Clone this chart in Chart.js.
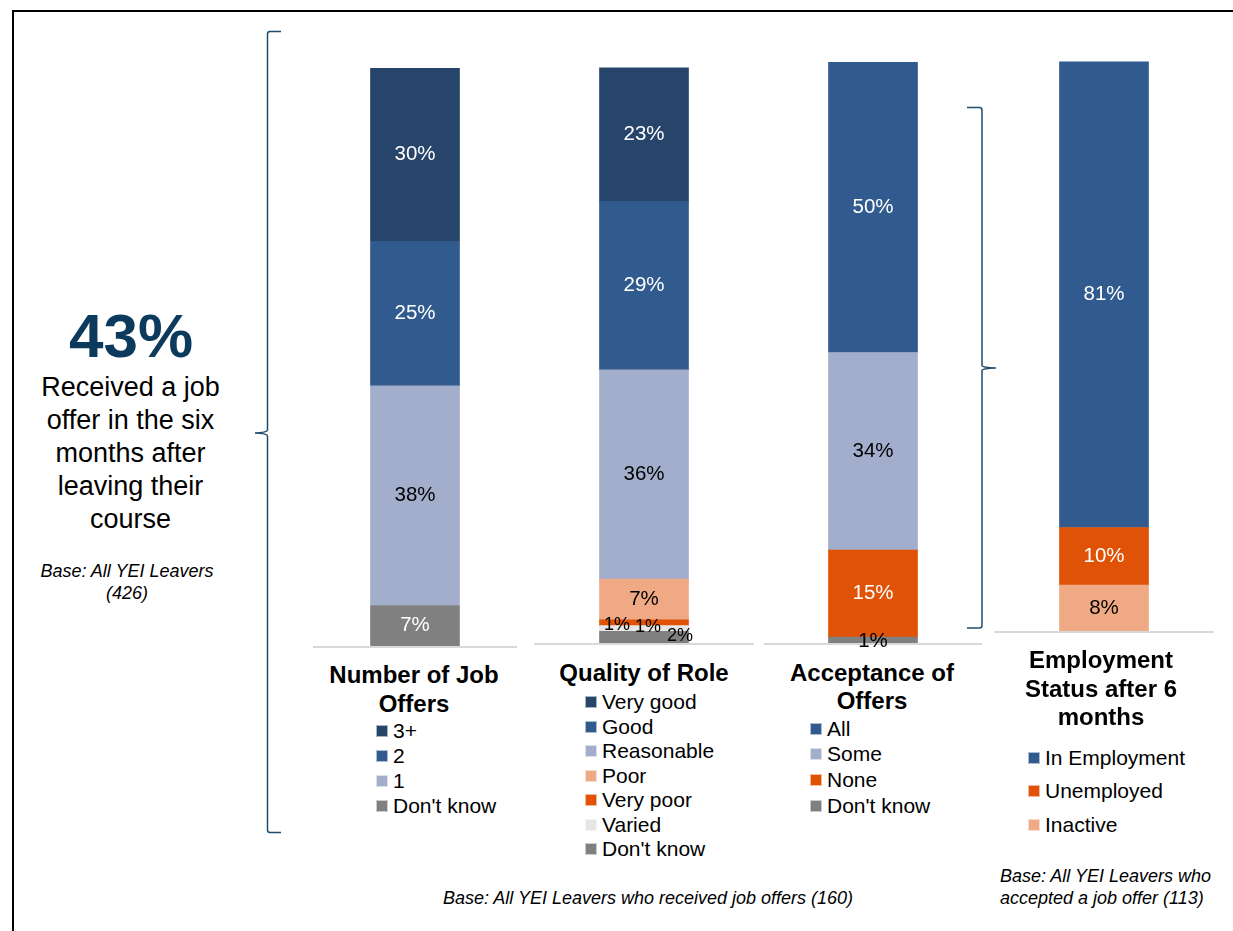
<!DOCTYPE html>
<html lang="en">
<head>
<meta charset="UTF-8">
<title>YEI leavers – job offers</title>
<script src="https://cdn.jsdelivr.net/npm/chart.js"></script>
<style>
    body {
        margin: 0;
        width: 1233px;
        height: 931px;
        overflow: hidden;
        position: relative;
        background: #fff;
        font-family: "Liberation Sans", Arial, sans-serif;
        color: #000;
    }
    .abs { position: absolute; }
    canvas { position: absolute; }
    .title {
        position: absolute;
        width: 260px;
        text-align: center;
        font-weight: bold;
        font-size: 24px;
    }
    .note {
        position: absolute;
        text-align: center;
        font-style: italic;
        font-size: 18px;
        line-height: 22px;
        white-space: nowrap;
    }
    .legend { position: absolute; font-size: 21px; white-space: nowrap; }
    .legend div { display: flex; align-items: center; }
    .legend span.box {
        width: 10px;
        height: 10px;
        margin-right: 5px;
        border: 0.5px solid rgba(255,255,255,0.6);
        flex: none;
    }
</style>
</head>
<body>

<!-- frame and the two braces -->
<svg class="abs" style="left:0;top:0" width="1233" height="931">
    <path d="M1233 11 H13 V931" fill="none" stroke="#000" stroke-width="2"/>
    <path d="M281 31.5 H270 Q267.5 31.5 267.5 34 V430 Q267.5 432.5 255 433 Q267.5 433.5 267.5 436 V830 Q267.5 832.5 270 832.5 H281"
          fill="none" stroke="#1f4e6e" stroke-width="1.5"/>
    <path d="M967 107.5 H979.5 Q982 107.5 982 110 V365.5 Q982 367.5 996 368 Q982 368.5 982 370.5 V625.5 Q982 628 979.5 628 H967"
          fill="none" stroke="#1f4e6e" stroke-width="1.5"/>
</svg>

<!-- headline figure on the left -->
<div class="abs" style="left:31px;top:305px;width:200px;text-align:center;font-weight:bold;font-size:62px;line-height:62px;color:#0c3a5c">43%</div>
<div class="abs" style="left:0;top:371px;width:261px;text-align:center;font-size:27px;line-height:33px">Received a job<br>offer in the six<br>months after<br>leaving their<br>course</div>
<div class="note" style="left:27px;top:560px;width:200px">Base: All YEI Leavers<br>(426)</div>

<canvas id="offersChart"></canvas>
<canvas id="qualityChart"></canvas>
<canvas id="acceptChart"></canvas>
<canvas id="statusChart"></canvas>

<div class="title" style="left:284px;top:660px;line-height:29px">Number of Job<br>Offers</div>
<div class="title" style="left:514px;top:658px;line-height:29px">Quality of Role</div>
<div class="title" style="left:742px;top:659px;line-height:28px">Acceptance of<br>Offers</div>
<div class="title" style="left:971px;top:646px;line-height:28.5px">Employment<br>Status after 6<br>months</div>

<div class="legend" id="offersLegend" style="left:376px;top:718px"></div>
<div class="legend" id="qualityLegend" style="left:585px;top:690px"></div>
<div class="legend" id="acceptLegend" style="left:810px;top:716px"></div>
<div class="legend" id="statusLegend" style="left:1028px;top:741px"></div>

<div class="note" style="left:398px;top:887px;width:500px">Base: All YEI Leavers who received job offers (160)</div>
<div class="note" style="left:1000px;top:865px;width:200px">Base: All YEI Leavers who<br>accepted a job offer (113)</div>

<script>
// ---- data (percentages, top segment first) ----
const offerCats = ['3+', '2', '1', "Don't know"];
const offerVals = [30, 25, 38, 7];

const qualityCats = ['Very good', 'Good', 'Reasonable', 'Poor', 'Very poor', 'Varied', "Don't know"];
const qualityVals = [23, 29, 36, 7, 1, 1, 2];

const acceptCats = ['All', 'Some', 'None', "Don't know"];
const acceptVals = [50, 34, 15, 1];

const statusCats = ['In Employment', 'Unemployed', 'Inactive'];
const statusVals = [81, 10, 8];

// ---- colours ----
const NAVY = '#27446a', BLUE = '#315b8e', LILAC = '#a2aecb', PEACH = '#f0a985',
      ORANGE = '#e05206', PALE = '#e6e6e6', GREY = '#808080';
const WHITE = '#ffffff', BLACK = '#000000';

const panels = [
    { id: 'offers', cats: offerCats, vals: offerVals,
      colours: [NAVY, BLUE, LILAC, GREY], inks: [WHITE, WHITE, BLACK, WHITE],
      centre: 414.5, width: 204, bottom: 646, full: 578, legendGap: 25 },
    { id: 'quality', cats: qualityCats, vals: qualityVals,
      colours: [NAVY, BLUE, LILAC, PEACH, ORANGE, PALE, GREY],
      inks: [WHITE, WHITE, BLACK, BLACK, BLACK, BLACK, BLACK],
      centre: 644, width: 220, bottom: 643, full: 581, legendGap: 24.5,
      nudge: { 'Very poor': { dx: -27, dy: 2, size: 18 },
               'Varied': { dx: 4, dy: -1, size: 18 },
               "Don't know": { dx: 36, dy: -1, size: 18 } } },
    { id: 'accept', cats: acceptCats, vals: acceptVals,
      colours: [BLUE, LILAC, ORANGE, GREY], inks: [WHITE, BLACK, WHITE, BLACK],
      centre: 872.5, width: 218, bottom: 643, full: 581, legendGap: 25.6,
      nudge: { "Don't know": { dy: 1.5 } } },
    { id: 'status', cats: statusCats, vals: statusVals,
      colours: [BLUE, ORANGE, PEACH], inks: [WHITE, WHITE, BLACK],
      centre: 1104, width: 220, bottom: 631, full: 575, legendGap: 33.5 }
];

const FONT = '"Liberation Sans", Arial, sans-serif';
const PAD = 12;

// percentage written in the middle of each segment
const valueLabels = {
    id: 'valueLabels',
    afterDatasetsDraw(chart, args, opts) {
        const ctx = chart.ctx;
        const nudge = opts.nudge || {};
        ctx.save();
        ctx.textAlign = 'center';
        ctx.textBaseline = 'middle';
        chart.data.datasets.forEach((ds, i) => {
            chart.getDatasetMeta(i).data.forEach((bar, j) => {
                const p = bar.getProps(['x', 'y', 'base'], true);
                const n = nudge[ds.label] || {};
                ctx.font = (n.size || 20.5) + 'px ' + FONT;
                ctx.fillStyle = ds.ink;
                ctx.fillText(ds.data[j] + '%', p.x + (n.dx || 0), (p.y + p.base) / 2 + (n.dy || 0));
            });
        });
        ctx.restore();
    }
};

// light grey floor line under the bar
const floorLine = {
    id: 'floorLine',
    beforeDatasetsDraw(chart) {
        const ctx = chart.ctx;
        const y0 = chart.scales.y.getPixelForValue(0);
        ctx.save();
        ctx.strokeStyle = '#d9d9d9';
        ctx.lineWidth = 2;
        ctx.beginPath();
        ctx.moveTo(chart.chartArea.left, y0 + 1);
        ctx.lineTo(chart.chartArea.right, y0 + 1);
        ctx.stroke();
        ctx.restore();
    }
};

panels.forEach(p => {
    const canvas = document.getElementById(p.id + 'Chart');
    canvas.width = p.width;
    canvas.height = p.full + PAD;
    canvas.style.left = (p.centre - p.width / 2) + 'px';
    canvas.style.top = (p.bottom - p.full) + 'px';

    // stack from the bottom up, so the list is reversed
    const datasets = p.cats.map((c, i) => ({
        label: c,
        data: [p.vals[i]],
        backgroundColor: p.colours[i],
        borderWidth: 0,
        barThickness: 89,
        ink: p.inks[i]
    })).reverse();

    new Chart(canvas, {
        type: 'bar',
        data: { labels: [''], datasets: datasets },
        plugins: [floorLine, valueLabels],
        options: {
            responsive: false,
            animation: false,
            layout: { padding: { top: 0, bottom: PAD, left: 0, right: 0 } },
            plugins: {
                legend: { display: false },
                tooltip: { enabled: false },
                valueLabels: { nudge: p.nudge || {} }
            },
            scales: {
                x: { display: false, stacked: true },
                y: { display: false, stacked: true, min: 0, max: 100 }
            }
        }
    });

    // legend list under the title
    const legend = document.getElementById(p.id + 'Legend');
    p.cats.forEach((c, i) => {
        const row = document.createElement('div');
        row.style.height = p.legendGap + 'px';
        const box = document.createElement('span');
        box.className = 'box';
        box.style.background = p.colours[i];
        const txt = document.createElement('span');
        txt.textContent = c;
        row.appendChild(box);
        row.appendChild(txt);
        legend.appendChild(row);
    });
});
</script>
</body>
</html>
